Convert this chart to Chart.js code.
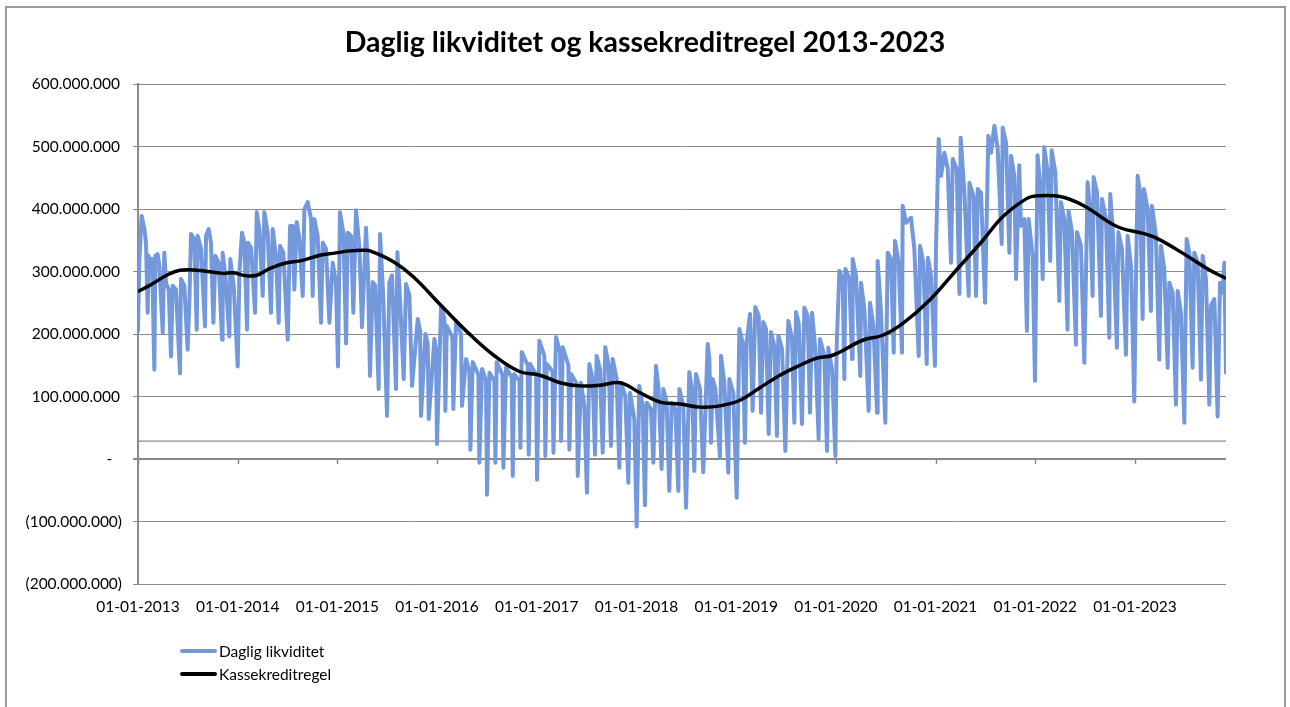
<!DOCTYPE html>
<html>
<head>
<meta charset="utf-8">
<script src="https://cdn.jsdelivr.net/npm/chart.js@4/dist/chart.umd.min.js"></script>
<style>
html,body{margin:0;padding:0;background:#fff;}
#wrap{position:relative;width:1290px;height:707px;overflow:hidden;background:#fff;}
#frame{position:absolute;left:5px;top:6px;width:1281px;height:760px;border:2px solid #9a9a9a;box-sizing:border-box;}
#chart{position:absolute;left:0;top:0;}
#legend{position:absolute;left:180px;top:639px;font-family:Lato,"Open Sans",sans-serif;font-size:15.5px;color:#000;}
#legend .row{display:flex;align-items:center;height:23px;}
#legend .swatch{width:37px;height:4px;margin-right:2px;border-radius:2px;}
</style>
</head>
<body>
<div id="wrap">
  <div id="frame"></div>
  <canvas id="chart" width="1290" height="707"></canvas>
  <div id="legend"></div>
</div>
<script>
// ---- Data (values in millions NOK) ----
const tickYears = [2013, 2014, 2015, 2016, 2017, 2018, 2019, 2020, 2021, 2022, 2023];
const lastDate = 2023.913;

const dailyYears = [
2013.000,2013.013,2013.037,2013.064,2013.080,2013.097,2013.107,2013.120,2013.141,2013.164,2013.174,2013.197,2013.214,2013.248,2013.264,2013.281,2013.308,2013.331,2013.348,2013.381,2013.421,2013.431,2013.465,2013.498,2013.515,2013.532,2013.565,2013.589,2013.599,2013.632,2013.672,2013.682,2013.709,2013.732,2013.756,2013.776,2013.809,2013.843,2013.849,2013.876,2013.916,2013.926,2013.960,
2014.000,2014.017,2014.043,2014.067,2014.094,2014.104,2014.134,2014.174,2014.191,2014.217,2014.251,2014.267,2014.301,2014.334,2014.351,2014.384,2014.411,2014.425,2014.458,2014.502,2014.525,2014.552,2014.568,2014.592,2014.619,2014.652,2014.669,2014.702,2014.736,2014.752,2014.769,2014.802,2014.836,2014.853,2014.886,2014.920,2014.953,2014.986,
2015.006,2015.026,2015.060,2015.087,2015.103,2015.137,2015.160,2015.187,2015.220,2015.247,2015.287,2015.307,2015.327,2015.354,2015.378,2015.414,2015.428,2015.461,2015.498,2015.521,2015.548,2015.588,2015.602,2015.628,2015.665,2015.689,2015.722,2015.749,2015.806,2015.829,2015.839,2015.883,2015.906,2015.916,2015.973,2015.989,2015.999,
2016.040,2016.073,2016.083,2016.097,2016.153,2016.163,2016.190,2016.240,2016.250,2016.291,2016.324,2016.334,2016.357,2016.414,2016.424,2016.451,2016.491,2016.501,2016.525,2016.575,2016.585,2016.598,2016.655,2016.665,2016.692,2016.749,2016.759,2016.772,2016.826,2016.836,2016.849,2016.909,2016.919,2016.933,2016.993,
2017.003,2017.026,2017.076,2017.086,2017.100,2017.157,2017.167,2017.193,2017.234,2017.244,2017.260,2017.317,2017.327,2017.344,2017.401,2017.411,2017.443,2017.477,2017.503,2017.527,2017.560,2017.584,2017.600,2017.634,2017.661,2017.687,2017.721,2017.744,2017.761,2017.801,2017.828,2017.844,2017.888,2017.918,2017.935,2017.978,
2018.002,2018.028,2018.062,2018.085,2018.102,2018.145,2018.169,2018.196,2018.222,2018.252,2018.269,2018.303,2018.329,2018.353,2018.390,2018.420,2018.430,2018.470,2018.497,2018.530,2018.557,2018.580,2018.597,2018.637,2018.670,2018.714,2018.731,2018.747,2018.764,2018.791,2018.838,2018.848,2018.881,2018.921,2018.931,2018.971,
2019.005,2019.032,2019.065,2019.088,2019.105,2019.139,2019.165,2019.192,2019.226,2019.249,2019.272,2019.299,2019.326,2019.349,2019.383,2019.409,2019.423,2019.460,2019.493,2019.523,2019.560,2019.583,2019.600,2019.627,2019.660,2019.684,2019.717,2019.740,2019.761,2019.794,2019.827,2019.841,2019.884,2019.911,2019.924,2019.961,2019.995,
2020.008,2020.035,2020.068,2020.085,2020.095,2020.135,2020.162,2020.168,2020.202,2020.245,2020.252,2020.286,2020.329,2020.342,2020.376,2020.413,2020.419,2020.453,2020.496,2020.520,2020.553,2020.580,2020.593,2020.630,2020.663,2020.670,2020.704,2020.754,2020.787,2020.831,2020.844,2020.877,2020.911,2020.924,2020.954,2020.994,
2021.004,2021.031,2021.055,2021.088,2021.122,2021.155,2021.172,2021.212,2021.239,2021.252,2021.289,2021.332,2021.339,2021.379,2021.406,2021.422,2021.456,2021.496,2021.529,2021.556,2021.590,2021.623,2021.663,2021.673,2021.707,2021.740,2021.757,2021.790,2021.807,2021.839,2021.856,2021.890,2021.916,2021.933,2021.973,2021.997,
2022.023,2022.050,2022.074,2022.090,2022.124,2022.150,2022.164,2022.201,2022.241,2022.257,2022.291,2022.324,2022.334,2022.368,2022.408,2022.418,2022.458,2022.492,2022.508,2022.525,2022.548,2022.575,2022.585,2022.619,2022.659,2022.669,2022.709,2022.742,2022.752,2022.776,2022.819,2022.833,2022.869,2022.910,2022.926,2022.960,2022.993,
2023.010,2023.027,2023.050,2023.077,2023.090,2023.127,2023.160,2023.170,2023.210,2023.244,2023.261,2023.294,2023.328,2023.344,2023.378,2023.411,2023.428,2023.461,2023.495,2023.518,2023.545,2023.578,2023.595,2023.629,2023.662,2023.679,2023.712,2023.746,2023.762,2023.796,2023.829,2023.853,2023.879,2023.896,2023.913
];

const dailyValues = [
205,317,389,368,346,234,325,309,320,143,325,328,309,202,330,282,271,164,277,271,137,288,277,175,250,360,352,207,357,336,212,357,368,346,218,325,314,191,330,293,196,320,277,
148,298,362,346,207,346,338,234,395,368,261,395,362,234,368,325,218,341,330,191,373,373,271,379,352,261,400,411,384,261,384,357,218,346,336,218,314,282,
148,395,362,185,362,357,234,398,340,211,370,300,133,283,278,112,360,256,69,283,294,112,331,256,128,280,262,117,224,205,69,200,185,64,192,175,24,
245,225,77,213,195,80,221,200,85,160,140,15,155,135,-6,144,125,-57,138,125,-6,155,135,-14,147,130,-27,136,125,18,171,150,7,152,135,
-33,189,165,5,152,140,10,195,170,29,179,150,15,136,120,-27,122,85,-54,152,128,7,165,144,10,179,149,21,160,128,-14,122,101,-38,106,64,
-108,117,85,-74,90,80,-6,149,112,-16,112,90,-51,90,80,-51,112,85,-78,139,112,-19,136,112,-21,184,160,26,128,112,2,165,122,-22,128,106,
-62,208,187,26,187,232,77,243,229,74,219,208,40,203,181,37,197,176,13,221,192,58,235,218,56,242,229,74,234,176,32,192,165,13,178,144,5,
181,301,288,128,304,288,160,320,293,133,282,240,77,250,213,74,317,234,58,330,320,170,349,314,170,405,378,386,336,165,341,314,152,322,293,149,
336,512,453,490,464,314,480,464,264,514,426,261,442,421,261,432,426,250,517,490,533,496,344,530,506,330,485,453,288,470,373,384,205,384,325,125,
486,437,288,499,459,317,494,459,253,411,384,207,397,363,183,363,341,154,288,443,400,261,451,427,229,416,384,194,424,368,178,363,336,167,357,309,92,
288,453,427,224,432,400,237,405,357,159,341,304,146,282,266,87,269,234,58,352,330,146,330,314,127,325,288,87,245,256,68,282,266,314,138
];

const ruleYears = [2013.000,2013.120,2013.288,2013.421,2013.589,2013.853,2013.953,2014.090,2014.191,2014.324,2014.491,2014.625,2014.825,2014.956,2015.126,2015.257,2015.327,2015.558,2015.758,2016.050,2016.317,2016.584,2016.826,2017.032,2017.233,2017.433,2017.634,2017.835,2018.035,2018.236,2018.436,2018.637,2018.837,2019.038,2019.238,2019.439,2019.640,2019.800,2019.968,2020.269,2020.470,2020.672,2020.939,2021.207,2021.475,2021.676,2021.917,2022.017,2022.248,2022.478,2022.819,2023.080,2023.221,2023.482,2023.752,2023.913];
const ruleValues = [268,278,294,302,302,297,298,293,294,305,314,317,326,329,333,334,333,316,292,244,201,164,140,134,122,117,118,122,106,91,88,83,85,94,114,134,150,161,166,190,198,217,254,302,350,388,417,421,420,406,372,361,353,329,302,289];

const limitYears = [2013.000, 2023.913];
const limitValues = [28.5, 28.5];

const seriesNames = ['Daglig likviditet', 'Kassekreditregel'];
const chartTitle = 'Daglig likviditet og kassekreditregel 2013-2023';

// ---- helpers ----
const M = 1e6;
const toPoints = (xs, ys) => xs.map((x, i) => ({x: x, y: ys[i] * M}));
function fmtNok(v) {
  if (v === 0) return '-\u2002\u2009';
  const s = Math.round(Math.abs(v)).toString().replace(/\B(?=(\d{3})+(?!\d))/g, '.');
  return v < 0 ? '(' + s + ')' : s + '\u2009';
}
const FONT = 'Lato, "Open Sans", sans-serif';
const GRID = '#8a8a8a';

const zeroTicks = {
  id: 'zeroTicks',
  beforeDatasetsDraw(chart) {
    const {ctx, scales: {x, y}} = chart;
    const y0 = y.getPixelForValue(0);
    ctx.save();
    ctx.strokeStyle = GRID;
    ctx.lineWidth = 1.5;
    ctx.beginPath();
    tickYears.forEach(t => {
      const px = Math.round(x.getPixelForValue(t)) + 0.5;
      ctx.moveTo(px, y0);
      ctx.lineTo(px, y0 + 5);
    });
    ctx.stroke();
    ctx.restore();
  }
};

const chart = new Chart(document.getElementById('chart').getContext('2d'), {
  type: 'line',
  data: {
    datasets: [
      {label: seriesNames[0], data: toPoints(dailyYears, dailyValues), borderColor: '#7399dc', borderWidth: 4,
       pointRadius: 0, tension: 0, borderJoinStyle: 'round', borderCapStyle: 'round', order: 1},
      {label: seriesNames[1], data: toPoints(ruleYears, ruleValues), borderColor: '#000000', borderWidth: 3.5,
       pointRadius: 0, tension: 0.4, order: 0},
      {label: 'limit', data: toPoints(limitYears, limitValues), borderColor: GRID, borderWidth: 1.2,
       pointRadius: 0, order: 2}
    ]
  },
  options: {
    responsive: false,
    animation: false,
    events: [],
    layout: {padding: {left: 0, right: 0, top: 0, bottom: 0}},
    plugins: {
      legend: {display: false},
      tooltip: {enabled: false},
      title: {
        display: true, text: chartTitle, color: '#000',
        font: {family: FONT, size: 28.5, weight: 'bold'},
        padding: {top: 25.5, bottom: 24.3}
      }
    },
    scales: {
      x: {
        type: 'linear', min: tickYears[0], max: lastDate,
        afterBuildTicks: s => { s.ticks = tickYears.map(v => ({value: v})); },
        afterFit: s => { s.height = 123; },
        ticks: {callback: v => '01-01-' + v, autoSkip: false, maxRotation: 0, color: '#000',
                font: {family: FONT, size: 15.5}, padding: 14},
        grid: {display: false, drawTicks: false},
        border: {display: false}
      },
      y: {
        min: -200 * M, max: 600 * M,
        afterFit: s => { s.width = 138; },
        ticks: {stepSize: 100 * M, callback: v => fmtNok(v), color: '#000',
                font: {family: FONT, size: 15.5}, padding: 11},
        grid: {color: GRID, lineWidth: c => (c.tick && c.tick.value === 0 ? 2 : 1), tickLength: 5},
        border: {color: GRID, width: 2}
      },
      yRight: {
        position: 'right', min: -200 * M, max: 600 * M,
        afterFit: s => { s.width = 64; },
        ticks: {display: false},
        grid: {display: false, drawTicks: false},
        border: {display: false}
      }
    }
  },
  plugins: [zeroTicks]
});

// HTML legend built from the datasets
const legend = document.getElementById('legend');
chart.data.datasets.slice(0, 2).forEach(ds => {
  const row = document.createElement('div');
  row.className = 'row';
  const sw = document.createElement('span');
  sw.className = 'swatch';
  sw.style.background = ds.borderColor;
  const tx = document.createElement('span');
  tx.textContent = ds.label;
  row.appendChild(sw); row.appendChild(tx);
  legend.appendChild(row);
});
</script>
</body>
</html>
